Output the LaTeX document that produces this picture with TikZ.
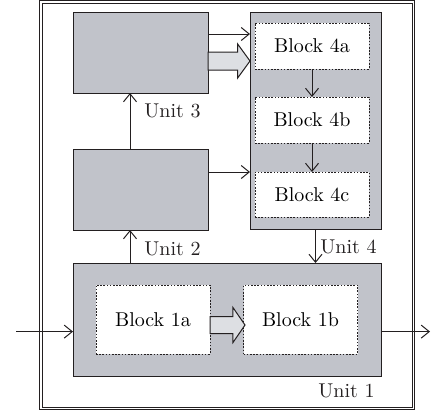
\documentclass[tikz,border=0pt]{standalone}
\usepackage{tikz}
\usetikzlibrary{shapes.arrows,arrows.meta,positioning,calc}
\definecolor{unitgray}{RGB}{193,195,202}
\definecolor{pipegray}{RGB}{221,223,227}
\definecolor{linedark}{RGB}{35,31,32}
\tikzset{
  unit/.style={draw=linedark,fill=unitgray,line width=0.5pt,inner sep=0pt,outer sep=0pt},
  blk/.style={draw=linedark,fill=white,line width=0.5pt,dash pattern=on 0.8pt off 0.8pt,
              minimum width=57pt,inner sep=0pt,outer sep=0pt},
  lbl/.style={inner sep=0pt,anchor=base east,text=linedark},
  arr/.style={-{Straight Barb[length=4pt,width=6.5pt]},line width=0.5pt,draw=linedark},
  fat/.style={single arrow,draw=linedark,fill=pipegray,line width=0.5pt,outer sep=0pt,anchor=tail},
}
\begin{document}
\begin{tikzpicture}[x=1pt,y=-1pt,node distance=14pt]
  \useasboundingbox (0,0) rectangle (215.5,207);
  \draw[draw=linedark,double=white,double distance=0.8pt,line width=0.45pt]
    (20.4,1.05) rectangle (206.75,204.3);
  % units
  \node[unit,minimum width=67.5pt,minimum height=40.5pt] (u3) at (70.25,26.25) {};
  \node[unit,minimum width=65.5pt,minimum height=108.5pt] (u4) at (157.75,60.25) {};
  \node[unit,minimum width=67.5pt,minimum height=40.5pt] (u2) at (70.25,94.75) {};
  \node[unit,minimum width=154pt,minimum height=56.5pt] (u1) at (113.5,159.75) {};
  % blocks
  \node[blk,minimum height=23pt] (b4a) at (156,23) {Block 4a};
  \node[blk,minimum height=23pt,below=of b4a] (b4b) {Block 4b};
  \node[blk,minimum height=22.5pt,below=14.5pt of b4b] (b4c) {Block 4c};
  \node[blk,minimum height=34.5pt] (b1a) at (76.5,159.75) {Block 1a};
  \node[blk,minimum height=34.5pt] (b1b) at (150.25,159.75) {Block 1b};
  % labels
  \node[lbl] (l3) at ([xshift=-3.5pt,yshift=-12pt]u3.south east) {Unit 3};
  \node[lbl] (l2) at ([xshift=-3.5pt,yshift=-12.5pt]u2.south east) {Unit 2};
  \node[lbl] (l4) at ([xshift=-2pt,yshift=-12pt]u4.south east) {Unit 4};
  \node[lbl] (l1) at ([xshift=-3pt,yshift=-10.8pt]u1.south east) {Unit 1};
  % wide arrows
  \node[fat,minimum height=21pt,inner sep=4.25pt,single arrow head extend=4pt,
        single arrow tip angle=108] (f3) at ([yshift=-4.25pt]u3.east) {};
  \node[fat,minimum height=17.5pt,inner sep=4pt,single arrow head extend=4.5pt,
        single arrow tip angle=111] (f1) at ([yshift=-2.75pt]b1a.east) {};
  % connections
  \draw[arr] ([yshift=9.25pt]u3.east) -- ([yshift=9.25pt]u3.east -| u4.west);
  \draw[arr] ([yshift=8.75pt]u2.east) -- ([yshift=8.75pt]u2.east -| u4.west);
  \draw[arr] ([xshift=-5.25pt]u2.north) -- ([xshift=-5.25pt]u3.south);
  \draw[arr] ([xshift=-5.25pt]u2.south |- u1.north) -- ([xshift=-5.25pt]u2.south);
  \draw[arr] (u4.south) -- (u4.south |- u1.north);
  \draw[arr] (b4a) -- (b4b);
  \draw[arr] (b4b) -- (b4c);
  \coordinate (in) at (8,165.8);
  \coordinate (out) at (215,165.8);
  \draw[arr] (in) -- (in -| u1.west);
  \draw[arr] (u1.east |- out) -- (out);
\end{tikzpicture}
\end{document}
